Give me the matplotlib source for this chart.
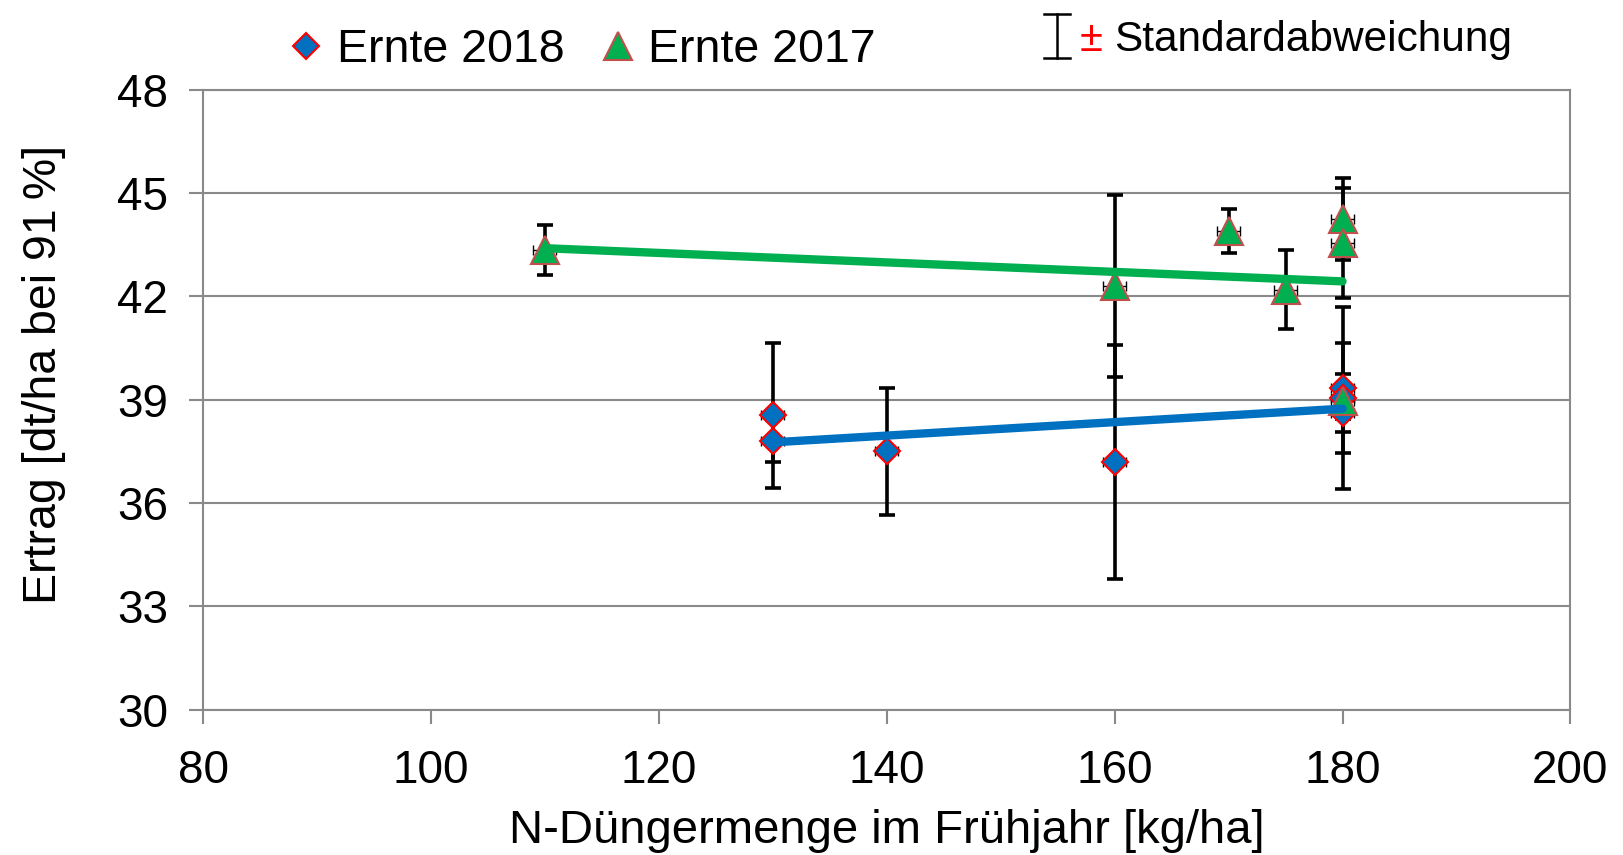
import matplotlib
matplotlib.use("Agg")
import matplotlib.pyplot as plt
import numpy as np
from matplotlib.lines import Line2D

plt.rcParams['font.family'] = ['Liberation Sans', 'DejaVu Sans']

# Ernte 2018
x18 = [130, 130, 140, 160, 180, 180, 180]
y18 = [38.55, 37.8, 37.5, 37.2, 39.35, 39.05, 38.6]
sd18 = [2.1, 0.6, 1.85, 3.4, 1.3, 2.65, 1.15]

# Ernte 2017
x17 = [110, 160, 170, 175, 180, 180, 180]
y17 = [43.35, 42.3, 43.9, 42.2, 44.25, 43.55, 38.95]
sd17 = [0.72, 2.65, 0.65, 1.15, 1.2, 1.6, 0.5]

xerr_kg = 1.0  # horizontale Fehlerbalken

x_ticks = [80, 100, 120, 140, 160, 180, 200]
y_ticks = [30, 33, 36, 39, 42, 45, 48]

BLUE = "#0070C0"
GREEN = "#00B050"
GRAY = "#898989"

fig = plt.figure(figsize=(16.24, 8.55), dpi=100)
ax = fig.add_axes([0.125, 0.170, 0.842, 0.725])

series = [
    (x18, y18, sd18, "D", 13.5, BLUE, "#FF0000", "Ernte 2018"),
    (x17, y17, sd17, "^", 20, GREEN, "#C0504D", "Ernte 2017"),
]

handles = []
for xs, ys, sds, mk, ms, fc, ec, lab in series:
    # Fehlerbalken
    ax.errorbar(xs, ys, xerr=xerr_kg, fmt="none", ecolor="black",
                elinewidth=1.0, capsize=3.5, capthick=1.0, zorder=3)
    ax.errorbar(xs, ys, yerr=sds, fmt="none", ecolor="black",
                elinewidth=2.6, capsize=5.5, capthick=2.6, zorder=3)
    h, = ax.plot(xs, ys, linestyle="none", marker=mk, markersize=ms,
                 markerfacecolor=fc, markeredgecolor=ec, markeredgewidth=1.5,
                 zorder=4, label=lab)
    handles.append(h)
    # lineare Trendlinie
    k, d = np.polyfit(xs, ys, 1)
    xl = np.array([min(xs), max(xs)])
    ax.plot(xl, k * xl + d, color=fc, lw=6, solid_capstyle="round", zorder=5)

ax.set_xlim(80, 200)
ax.set_ylim(30, 48)
ax.set_xticks(x_ticks)
ax.set_yticks(y_ticks)
ax.grid(axis="y", color=GRAY, lw=1.5)
ax.set_axisbelow(True)
for s in ax.spines.values():
    s.set_color(GRAY)
    s.set_linewidth(1.5)
ax.tick_params(axis="both", direction="out", length=10, width=1.5,
               color=GRAY, labelsize=33)
ax.tick_params(axis="y", pad=15)
ax.tick_params(axis="x", pad=18)

ax.set_xlabel("N-Düngermenge im Frühjahr [kg/ha]", fontsize=34)
ax.set_ylabel("Ertrag [dt/ha bei 91\u2009%]", fontsize=33.5)
ax.xaxis.set_label_coords(0.5, -0.16)
ax.yaxis.set_label_coords(-0.1, 0.54)

ax.legend(handles=handles, loc="center left",
          bbox_to_anchor=(290 / 1624, 1 - 50 / 855),
          bbox_transform=fig.transFigure, ncol=2, frameon=False,
          fontsize=33.5, handlelength=0.7, handletextpad=0.3,
          columnspacing=0.8, borderpad=0, borderaxespad=0)

# Symbol fuer Standardabweichung
xi, y_top, y_bot, half = 1057, 14, 58, 13
W, H = 1624, 855
for xx, yy in [([xi, xi], [y_top, y_bot]),
               ([xi - half, xi + half], [y_top, y_top]),
               ([xi - half, xi + half], [y_bot, y_bot])]:
    fig.add_artist(Line2D(np.array(xx) / W, 1 - np.array(yy) / H,
                          transform=fig.transFigure, color="black", lw=1.8))
fig.text(1080 / W, 1 - 40 / H, "±", color="red", fontsize=30, va="center")
fig.text(1114 / W, 1 - 40 / H, "Standardabweichung", fontsize=30.5, va="center")

fig.savefig("out.png", dpi=100)
